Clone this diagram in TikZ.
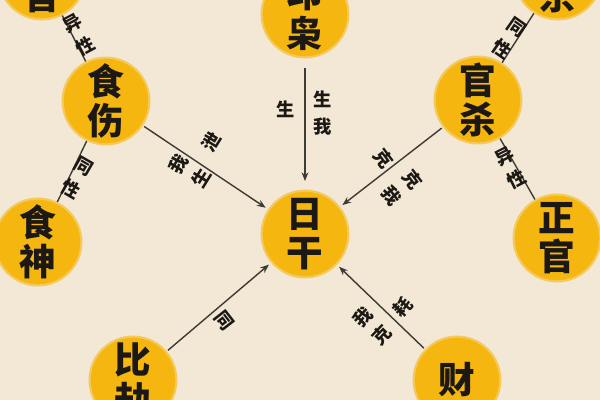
\documentclass[tikz,border=0pt]{standalone}
\usepackage{fontspec}
\newfontfamily\cjk{Noto Sans CJK SC}
\usetikzlibrary{arrows.meta}
\definecolor{paper}{RGB}{242,232,213}
\definecolor{gold}{RGB}{246,182,16}
\definecolor{ink}{RGB}{28,24,20}
\definecolor{wire}{RGB}{62,58,52}

\begin{document}
\begin{tikzpicture}[x=0.025cm, y=-0.025cm,
  gan/.style={circle, fill=gold, draw=gold!60!paper, line width=1.5pt, minimum size=2.17cm, inner sep=0pt, text=ink, align=center, font=\cjk\bfseries\fontsize{26}{28}\selectfont},
  tag/.style={inner sep=0pt, text=ink, align=center, font=\cjk\bfseries\fontsize{13}{19}\selectfont},
  wire/.style={draw=wire, line width=1pt}]
\def\l{2.2mm}
\def\w{1.7mm}

\fill [paper] (0,0) rectangle (600,400);
\useasboundingbox (0,0) rectangle (600,400);

\node [gan, name=sg]  at (42,-24)  {伤\\官};
\node [gan, name=ss]  at (106,101) {食\\伤};
\node [gan, name=sh]  at (38,242)  {食\\神};
\node [gan, name=yx]  at (305,14)  {印\\枭};
\node [gan, name=rg]  at (305,234) {日\\干};
\node [gan, name=qs]  at (558,-24) {七\\杀};
\node [gan, name=gs]  at (478,100) {官\\杀};
\node [gan, name=zg]  at (557,238) {正\\官};
\node [gan, name=bj]  at (133,380) {比\\劫};
\node [gan, name=cai] at (457,380) {财};

\draw [wire] (sg) to (ss);
\draw [wire] (ss) to (sh);
\draw [wire] (qs) to (gs);
\draw [wire] (gs) to (zg);
\draw [wire, -{Stealth[length=\l, width=\w]}, shorten <=1pt, shorten >=2pt] (ss) to (rg);
\draw [wire, -{Stealth[length=\l, width=\w]}, shorten <=7pt, shorten >=6pt] (yx) to (rg);
\draw [wire, -{Stealth[length=\l, width=\w]}, shorten <=1pt, shorten >=2pt] (gs) to (rg);
\draw [wire, -{Stealth[length=\l, width=\w]}, shorten <=1pt, shorten >=2pt] (bj) to (rg);
\draw [wire, -{Stealth[length=\l, width=\w]}, shorten <=1pt, shorten >=2pt] (cai) to (rg);

\node [tag, rotate=28,  name=t1]  at (79,35)   {异\\性};
\node [tag, rotate=-30, name=t2]  at (77,178)  {同\\性};
\node [tag, rotate=58,  name=t3]  at (211,142) {泄};
\node [tag, rotate=58,  name=t4]  at (190,171) {我\\生};
\node [tag,             name=t5]  at (286,109) {生};
\node [tag,             name=t6]  at (323,113) {生\\我};
\node [tag, rotate=-53, name=t7]  at (384,159) {克};
\node [tag, rotate=-53, name=t8]  at (402,188) {克\\我};
\node [tag, rotate=46,  name=t9]  at (403,307) {耗};
\node [tag, rotate=46,  name=t10] at (372,326) {我\\克};
\node [tag, rotate=-52, name=t11] at (224,321) {同};
\node [tag, rotate=-35, name=t12] at (509,38)  {同\\性};
\node [tag, rotate=27,  name=t13] at (511,168) {异\\性};
\end{tikzpicture}
\end{document}
